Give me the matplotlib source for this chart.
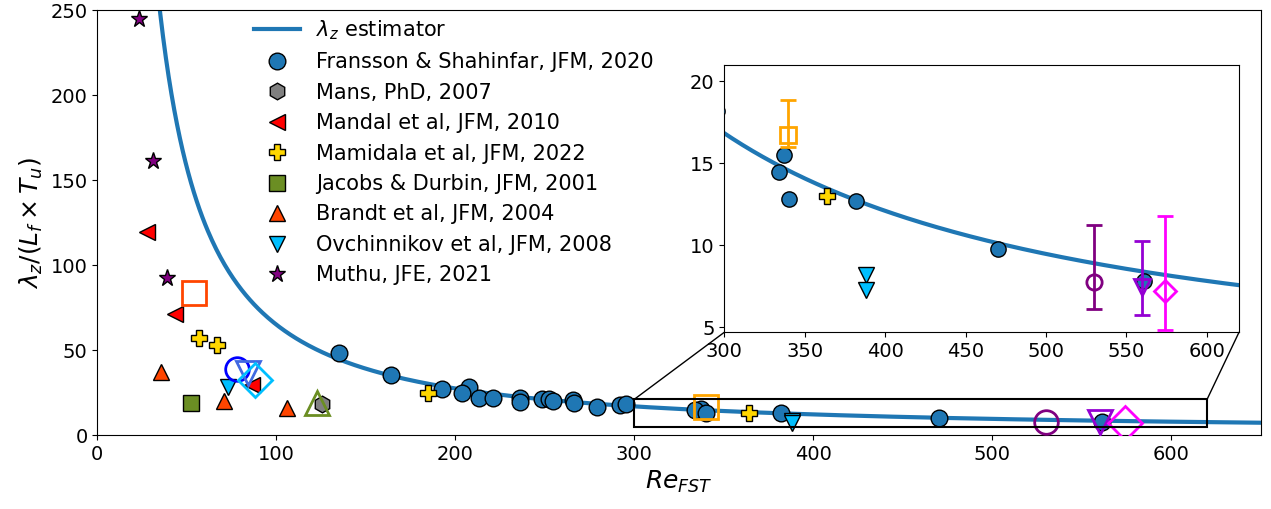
import numpy as np
import matplotlib
matplotlib.use("Agg")
import matplotlib.pyplot as plt
from matplotlib.patches import Rectangle, ConnectionPatch

# ---------------- data ----------------
# lambda_z estimator: lambda = A * Re^-n + c
est_A, est_n, est_c = 25190.0, 1.3, 1.67
est_re_range = (25.0, 650.0)

fs_x = [135.0, 164.0, 192.4, 207.8, 203.6, 213.4, 220.9, 236.1, 236.1, 248.6, 252.5,
        254.4, 266.0, 266.3, 279.0, 292.0, 295.4, 337.0, 334.1, 340.3, 382.0, 470.0, 561.1]
fs_y = [48.4, 35.3, 26.9, 28.4, 24.5, 21.9, 21.6, 21.6, 19.2, 21.2, 21.2,
        20.2, 20.6, 18.6, 16.3, 17.6, 18.2, 15.5, 14.45, 12.8, 12.7, 9.8, 7.85]
mans_x = [125.4]
mans_y = [18.1]
mandal_x = [27.6, 43.4, 86.6]
mandal_y = [119.6, 71.2, 29.4]
mamidala_x = [57.0, 67.0, 184.9, 364.0]
mamidala_y = [56.9, 52.9, 24.9, 13.0]
jacobs_x = [52.3]
jacobs_y = [18.6]
brandt_x = [35.6, 70.8, 106.1]
brandt_y = [37.3, 20.2, 16.1]
ovch_x = [72.8, 388.2, 388.2]
ovch_y = [28.0, 8.2, 7.25]
muthu_x = [23.5, 31.3, 38.8]
muthu_y = [245.0, 161.4, 92.2]

# unlabelled open markers (x, y, lower err, upper err)
open_x = [54.0, 78.2, 84.4, 88.1, 122.6, 339.9, 529.8, 559.9, 574.2]
open_y = [83.3, 38.8, 36.3, 32.4, 18.6, 16.75, 7.75, 7.47, 7.2]
open_err_lo = [0, 0, 0, 0, 0, 0.76, 1.6, 1.7, 2.35]
open_err_hi = [0, 0, 0, 0, 0, 2.13, 3.5, 2.8, 4.6]
open_markers = ['s', 'o', 'v', 'D', '^', 's', 'o', 'v', 'D']
open_colors = ['#FF4500', '#0000FF', '#4169E1', '#00BFFF', '#6B8E23',
               '#FFA500', '#800080', '#9400D3', '#FF00FF']

labels = ['$\\lambda_z$ estimator', 'Fransson & Shahinfar, JFM, 2020', 'Mans, PhD, 2007',
          'Mandal et al, JFM, 2010', 'Mamidala et al, JFM, 2022', 'Jacobs & Durbin, JFM, 2001',
          'Brandt et al, JFM, 2004', 'Ovchinnikov et al, JFM, 2008', 'Muthu, JFE, 2021']

main_xlim = (0, 650)
main_ylim = (0, 250)
inset_xlim = (300, 620)
inset_ylim = (4.7, 21)

# ---------------- figure ----------------
plt.rcParams['font.family'] = ['DejaVu Sans']
fig = plt.figure(figsize=(12.71, 5.09), dpi=100)
ax = fig.add_axes([0.07655, 0.14538, 0.91543, 0.83497])
axins = fig.add_axes([0.56986, 0.34715, 0.40496, 0.52515])

re = np.linspace(est_re_range[0], est_re_range[1], 800)
lam = est_A * re ** (-est_n) + est_c

solid = [
    (fs_x, fs_y, 'o', '#1f77b4'),
    (mans_x, mans_y, 'h', 'grey'),
    (mandal_x, mandal_y, '<', '#FF0000'),
    (mamidala_x, mamidala_y, 'P', '#FFD700'),
    (jacobs_x, jacobs_y, 's', '#6B8E23'),
    (brandt_x, brandt_y, '^', '#FF4500'),
    (ovch_x, ovch_y, 'v', '#00BFFF'),
    (muthu_x, muthu_y, '*', '#800080'),
]


def draw(a, ms, oms, with_err):
    handles = []
    h, = a.plot(re, lam, color='#1f77b4', lw=3, zorder=2)
    handles.append(h)
    for x, y, m, c in solid:
        size = ms * (1.05 if m == '*' else 1.0)
        h, = a.plot(x, y, linestyle='none', marker=m, markerfacecolor=c,
                    markeredgecolor='black', markeredgewidth=1.0, markersize=size, zorder=3)
        handles.append(h)
    for i in range(len(open_x)):
        if with_err and (open_err_lo[i] > 0 or open_err_hi[i] > 0):
            a.errorbar([open_x[i]], [open_y[i]], yerr=[[open_err_lo[i]], [open_err_hi[i]]],
                       fmt=open_markers[i], color=open_colors[i], mfc='none',
                       mec=open_colors[i], mew=2, ms=oms, elinewidth=2, capsize=6,
                       capthick=2, zorder=4)
        else:
            a.plot([open_x[i]], [open_y[i]], linestyle='none', marker=open_markers[i],
                   mfc='none', mec=open_colors[i], mew=2, ms=oms, zorder=4)
    return handles


handles = draw(ax, 12, 17, False)
draw(axins, 11, 11, True)

ax.set_xlim(*main_xlim)
ax.set_ylim(*main_ylim)
ax.set_xticks(np.arange(0, 700, 100))
ax.set_yticks(np.arange(0, 300, 50))
ax.tick_params(labelsize=14)
ax.set_xlabel('$Re_{FST}$', fontsize=18)
ax.set_ylabel('$\\lambda_z/(L_f \\times T_u)$', fontsize=18)

axins.set_xlim(*inset_xlim)
axins.set_ylim(*inset_ylim)
axins.set_xticks(np.arange(300, 650, 50))
axins.set_yticks([5, 10, 15, 20])
axins.tick_params(labelsize=14)

# zoom indicator
rect = Rectangle((inset_xlim[0], inset_ylim[0]), inset_xlim[1] - inset_xlim[0],
                 inset_ylim[1] - inset_ylim[0], fill=False, edgecolor='black', lw=1.5, zorder=5)
ax.add_patch(rect)
for xa, xd in [(0, inset_xlim[0]), (1, inset_xlim[1])]:
    cp = ConnectionPatch(xyA=(xa, 0), coordsA=axins.transAxes,
                         xyB=(xd, inset_ylim[1]), coordsB=ax.transData,
                         color='black', lw=1.0)
    fig.add_artist(cp)

ax.legend(handles, labels, loc='upper left', bbox_to_anchor=(0.1275, 1.0),
          borderaxespad=0, frameon=False, fontsize=15, handlelength=2.2,
          labelspacing=0.5)

fig.savefig('out.png', dpi=100)
